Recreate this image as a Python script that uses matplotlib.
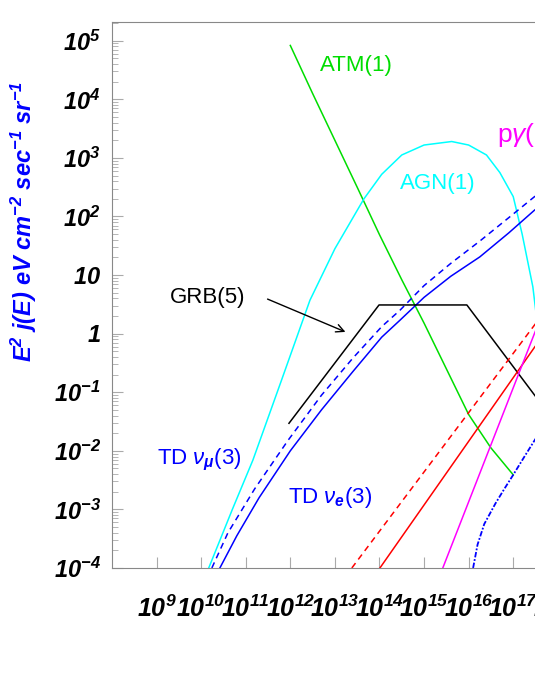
import matplotlib
matplotlib.use("Agg")
import matplotlib.pyplot as plt
import numpy as np

plt.rcParams['mathtext.fontset'] = 'custom'
plt.rcParams['mathtext.rm'] = 'Liberation Sans'
plt.rcParams['mathtext.it'] = 'Liberation Sans:italic'
plt.rcParams['mathtext.bf'] = 'Liberation Sans:bold:italic'
plt.rcParams['font.family'] = ['Liberation Sans', 'DejaVu Sans']

# log10(E/eV), log10(E^2 j(E))
atm_x = [12.0, 12.5, 13.0, 13.5, 14.0, 14.5, 15.0, 15.5, 16.0, 16.5, 17.0]
atm_y = [4.92, 4.10, 3.30, 2.50, 1.69, 0.92, 0.18, -0.60, -1.38, -1.95, -2.41]
agn_x = [10.17, 10.7, 11.16, 11.8, 12.44, 13.0, 13.65, 14.05, 14.5, 15.0, 15.62, 16.0, 16.4, 16.7, 17.0, 17.2, 17.44, 17.6]
agn_y = [-4.0, -3.0, -2.16, -0.80, 0.57, 1.45, 2.30, 2.72, 3.05, 3.22, 3.28, 3.22, 3.05, 2.75, 2.34, 1.70, 0.80, -0.2]
tde_x = [10.42, 10.8, 11.3, 12.0, 12.7, 13.4, 14.05, 14.46, 15.0, 15.6, 16.25, 16.9, 17.48, 18.5]
tde_y = [-4.0, -3.45, -2.8, -2.0, -1.3, -0.65, -0.06, 0.23, 0.62, 0.98, 1.31, 1.72, 2.11, 2.6]
tdm_x = [10.24, 10.6, 11.2, 11.95, 12.7, 13.4, 14.05, 14.46, 15.0, 15.6, 16.25, 16.9, 17.48, 18.5]
tdm_y = [-4.0, -3.4, -2.65, -1.82, -1.05, -0.42, 0.12, 0.40, 0.82, 1.20, 1.58, 1.98, 2.34, 2.8]
grb_x = [11.97, 13.99, 15.96, 17.48, 18.5]
grb_y = [-1.53, 0.49, 0.49, -1.05, -2.1]
red_d_x = [13.38, 17.48, 18.5]
red_d_y = [-4.0, 0.15, 1.15]
red_s_x = [14.01, 17.48, 18.5]
red_s_y = [-4.0, -0.23, 0.8]
mag_x = [15.42, 17.48, 18.0]
mag_y = [-4.0, 0.01, 1.0]
dd_x = [16.1, 16.2, 16.35, 16.6, 16.8, 17.0, 17.25, 17.48, 18.0]
dd_y = [-4.0, -3.6, -3.25, -2.9, -2.65, -2.41, -2.1, -1.82, -1.2]

fig = plt.figure(figsize=(5.35, 6.92), dpi=100)
ax = fig.add_axes([0.2093, 0.1792, 1.0, 0.789])
ax.set_xscale('log'); ax.set_yscale('log')
ax.set_xlim(1e8, 1e20)
ax.set_ylim(1e-4, 10**5.32)

def P(x, y, **kw):
    ax.plot(10**np.array(x), 10**np.array(y), **kw)

P(atm_x, atm_y, color='#00dd00', lw=1.1)
P(agn_x, agn_y, color='#00ffff', lw=1.1)
P(tde_x, tde_y, color='#0000ff', lw=1.1)
P(tdm_x, tdm_y, color='#0000ff', lw=1.1, ls=(0, (4, 3)))
P(grb_x, grb_y, color='black', lw=1.1)
P(red_d_x, red_d_y, color='#ff0000', lw=1.1, ls=(0, (4, 3)))
P(red_s_x, red_s_y, color='#ff0000', lw=1.1)
P(mag_x, mag_y, color='#ff00ff', lw=1.1)
P(dd_x, dd_y, color='#0000ff', lw=1.3, ls=(0, (3, 1, 1, 1)))

ax.spines['right'].set_visible(False)
for s in ['left', 'bottom', 'top']:
    ax.spines[s].set_color('#888888')
ax.tick_params(which='both', direction='in', colors='#aaaaaa', top=False, right=False)
ax.tick_params(which='major', length=8)
ax.tick_params(which='minor', length=4)

xt = [10.0**k for k in range(9, 20)]
ax.set_xticks(xt)
ax.set_xticklabels([r'$\mathbf{10^{%d}}$' % k for k in range(9, 20)], fontsize=18, color='black')
ax.tick_params(axis='x', which='major', pad=20, labelcolor='black')
ylab = []
for k in range(-4, 6):
    if k == 0: ylab.append(r'$\mathbf{1}$')
    elif k == 1: ylab.append(r'$\mathbf{10}$')
    else: ylab.append(r'$\mathbf{10^{%d}}$' % k)
ax.set_yticks([10.0**k for k in range(-4, 6)])
ax.set_yticklabels(ylab, fontsize=17)
ax.tick_params(axis='y', which='major', pad=8, labelcolor='black')
ax.xaxis.set_minor_formatter(matplotlib.ticker.NullFormatter())
ax.yaxis.set_minor_formatter(matplotlib.ticker.NullFormatter())

fig.text(0.045, 0.68, r'$\mathbf{E^{2}\ j(E)\ eV\ cm^{-2}\ sec^{-1}\ sr^{-1}}$',
         rotation=90, color='#0000ff', fontsize=17, ha='center', va='center')

def T(px, py, s, c, fs=16):
    fig.text(px/535, 1-py/692, s, color=c, fontsize=fs, ha='left', va='center')

T(320, 65, 'ATM(1)', '#00dd00')
T(400, 183, 'AGN(1)', '#00ffff')
T(497, 135, r'p$\mathit{γ}$(2)', '#ff00ff', 19)
T(170, 297, 'GRB(5)', 'black')
T(157, 460, r'TD $\mathit{ν}_{\mathbf{μ}}$(3)', '#0000ff')
T(288, 498, r'TD $\mathit{ν}_{\mathbf{e}}$(3)', '#0000ff')

fig.add_artist(matplotlib.patches.FancyArrowPatch((265/535, 1-298/692), (348/535, 1-333/692),
               transform=fig.transFigure, arrowstyle='->', mutation_scale=14, color='black', lw=1))

fig.savefig('out.png', dpi=100)
